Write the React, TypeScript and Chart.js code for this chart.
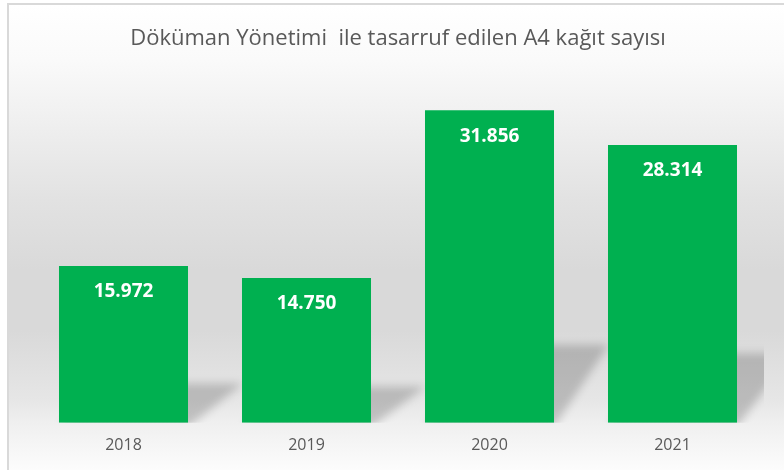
import React, { useEffect, useRef } from "react";
import { Chart, registerables } from "chart.js";

Chart.register(...registerables);

const categories = ["2018", "2019", "2020", "2021"];
const savedSheets = [15972, 14750, 31856, 28314];
const chartTitle = "Döküman Yönetimi  ile tasarruf edilen A4 kağıt sayısı";
const yMax = 35000;

function formatTr(v: number): string {
  return String(v).replace(/\B(?=(\d{3})+(?!\d))/g, ".");
}

const backgroundPlugin = {
  id: "bgPanel",
  beforeDraw(chart: any) {
    const { ctx, width, height } = chart;
    ctx.save();
    ctx.fillStyle = "#ffffff";
    ctx.fillRect(0, 0, width, height);
    const g = ctx.createLinearGradient(0, 5, 0, height);
    g.addColorStop(0, "#ffffff");
    g.addColorStop(0.118, "#fafafa");
    g.addColorStop(0.204, "#f3f3f3");
    g.addColorStop(0.419, "#e2e2e2");
    g.addColorStop(0.57, "#d9d9d9");
    g.addColorStop(0.699, "#d9d9d9");
    g.addColorStop(0.849, "#e6e6e6");
    g.addColorStop(0.897, "#efefef");
    g.addColorStop(0.935, "#f4f4f4");
    g.addColorStop(1, "#fcfcfc");
    ctx.fillStyle = g;
    ctx.fillRect(9, 5, width - 9, height - 5);
    ctx.strokeStyle = "#d9d9d9";
    ctx.lineWidth = 2;
    ctx.beginPath();
    ctx.moveTo(8, height);
    ctx.lineTo(8, 4);
    ctx.lineTo(width, 4);
    ctx.stroke();
    ctx.restore();
  },
};

const shadowPlugin = {
  id: "barShadow",
  beforeDatasetsDraw(chart: any) {
    const { ctx, chartArea } = chart;
    const meta = chart.getDatasetMeta(0);
    ctx.save();
    ctx.beginPath();
    ctx.rect(chartArea.left, chartArea.top, chartArea.right - chartArea.left, chartArea.bottom - chartArea.top);
    ctx.clip();
    ctx.filter = "blur(4px)";
    ctx.fillStyle = "rgba(0,0,0,0.19)";
    meta.data.forEach((bar: any) => {
      const { x, y, base, width } = bar.getProps(["x", "y", "base", "width"], true);
      const l = x - width / 2;
      const r = x + width / 2;
      const h = base - y;
      const sh = h * 0.25;
      const dx = 55;
      ctx.beginPath();
      ctx.moveTo(l, base + 4);
      ctx.lineTo(r, base + 4);
      ctx.lineTo(r + dx, base - sh);
      ctx.lineTo(l + dx, base - sh);
      ctx.closePath();
      ctx.fill();
    });
    ctx.restore();
  },
};

const labelPlugin = {
  id: "valueLabels",
  afterDatasetsDraw(chart: any) {
    const { ctx } = chart;
    const meta = chart.getDatasetMeta(0);
    const data = chart.data.datasets[0].data as number[];
    ctx.save();
    ctx.fillStyle = "#ffffff";
    ctx.font = "bold 19px 'Open Sans'";
    ctx.textAlign = "center";
    ctx.textBaseline = "middle";
    meta.data.forEach((bar: any, i: number) => {
      const { x, y } = bar.getProps(["x", "y"], true);
      ctx.fillText(formatTr(data[i]), x, y + 26);
    });
    ctx.restore();
  },
};

export default function App() {
  const canvasRef = useRef<HTMLCanvasElement | null>(null);

  useEffect(() => {
    if (!canvasRef.current) return;
    const chart = new Chart(canvasRef.current, {
      type: "bar",
      data: {
        labels: categories,
        datasets: [
          {
            data: savedSheets,
            backgroundColor: "#00B050",
            borderWidth: 0,
            barPercentage: 0.705,
            categoryPercentage: 1,
          },
        ],
      },
      options: {
        responsive: false,
        animation: false,
        layout: { padding: { left: 32, right: 20, top: 0, bottom: 2 } },
        plugins: {
          legend: { display: false },
          tooltip: { enabled: false },
          title: {
            display: true,
            text: chartTitle,
            color: "#595959",
            font: { family: "'Open Sans'", size: 22, weight: "normal" },
            padding: { top: 26, bottom: 27 },
          },
        },
        scales: {
          x: {
            grid: { display: false, drawTicks: false },
            border: { display: false },
            ticks: { color: "#595959", font: { family: "'Open Sans'", size: 16 }, padding: 13 },
          },
          y: { display: false, min: 0, max: yMax },
        },
      },
      plugins: [backgroundPlugin, shadowPlugin, labelPlugin],
    });
    return () => chart.destroy();
  }, []);

  return (
    <div style={{ position: "absolute", left: 0, top: 0, width: 784, height: 470 }}>
      <canvas ref={canvasRef} width={784} height={470} />
    </div>
  );
}
